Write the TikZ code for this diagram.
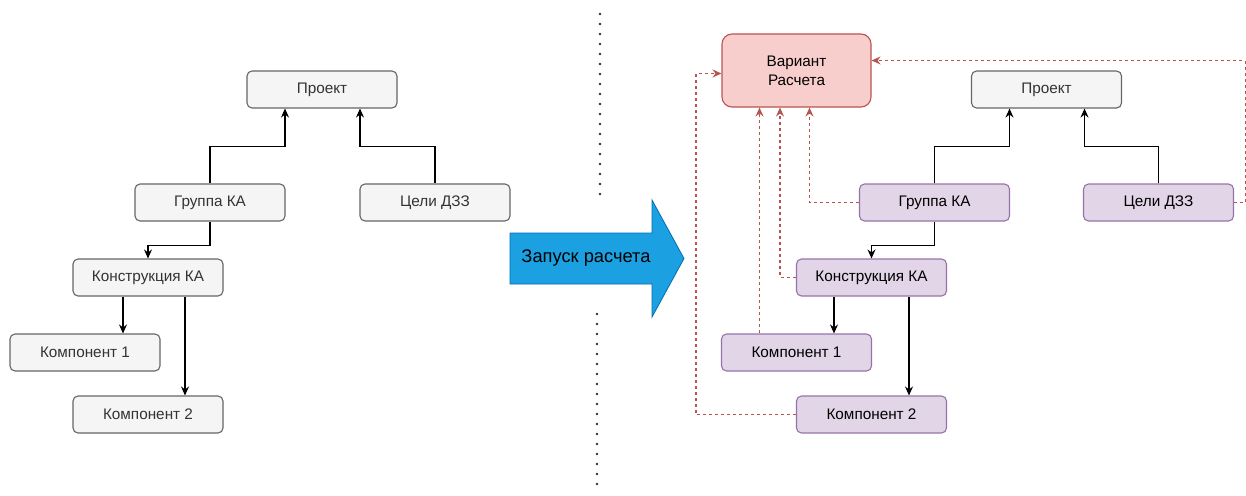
\documentclass[tikz,border=0pt]{standalone}
\usepackage{fontspec}
\setmainfont{Liberation Sans}
\usetikzlibrary{calc,arrows.meta}
\definecolor{gfill}{HTML}{F5F5F5}
\definecolor{gline}{HTML}{666666}
\definecolor{gtext}{HTML}{333333}
\definecolor{pfill}{HTML}{E1D5E7}
\definecolor{pline}{HTML}{9673A6}
\definecolor{rfill}{HTML}{F8CECC}
\definecolor{rline}{HTML}{B85450}
\definecolor{bfill}{HTML}{1BA1E2}
\definecolor{bline}{HTML}{006EAF}
\definecolor{dotc}{HTML}{333333}
\tikzset{
  graybox/.style={draw=gline, fill=gfill, rounded corners=5pt, minimum width=150pt, minimum height=37pt, inner sep=0pt, text=gtext, font=\fontsize{15.3}{17}\selectfont, line width=1.1pt},
  purplebox/.style={draw=pline, fill=pfill, rounded corners=5pt, minimum width=150pt, minimum height=37pt, inner sep=0pt, text=black, font=\fontsize{15.3}{17}\selectfont, line width=1.1pt},
  varbox/.style={draw=rline, fill=rfill, rounded corners=10pt, minimum width=149pt, minimum height=73pt, inner sep=0pt, text=black, align=center, font=\fontsize{15.3}{19}\selectfont, line width=1.1pt},
  arr/.style={draw=black, line width=1.1pt, -{Stealth[length=9pt,width=8pt,inset=3pt]}},
  redarr/.style={draw=rline, line width=1.1pt, dash pattern=on 3pt off 3pt, -{Stealth[length=9pt,width=8pt,inset=3pt]}},
  sep/.style={draw=dotc, line width=2.8pt, line cap=round, dash pattern=on 0pt off 10pt},
}
\begin{document}
\begin{tikzpicture}[x=1pt,y=-1pt]
\useasboundingbox (0,0) rectangle (1246,495);
% left tree
\node[graybox] (P1) at (322,89.5) {Проект};
\node[graybox] (G1) at (210,202.5) {Группа КА};
\node[graybox] (C1) at (435,202.5) {Цели ДЗЗ};
\node[graybox] (K1) at (148,277.5) {Конструкция КА};
\node[graybox] (M1) at (85,352.5) {Компонент 1};
\node[graybox] (N1) at (148,414.5) {Компонент 2};
\draw[arr] (G1.north) |- ($(P1.south)+(-37,38)$) -- ($(P1.south)+(-37,0)$);
\draw[arr] (C1.north) |- ($(P1.south)+(38,38)$) -- ($(P1.south)+(38,0)$);
\draw[arr] (G1.south) |- ($(K1.north)+(0,-13)$) -- (K1.north);
\coordinate (k1a) at ($(K1.south)+(-25,0)$);
\coordinate (k1b) at ($(K1.south)+(37,0)$);
\draw[arr] (k1a) -- (k1a |- M1.north);
\draw[arr] (k1b) -- (k1b |- N1.north);
% separator
\draw[sep] (600,14) -- (600,196);
\draw[sep] (597,314) -- (597,494);
% big arrow
\draw[draw=bline, fill=bfill, line width=0.8pt] (510,233) -- (652,233) -- (652,200) -- (684,258.5) -- (652,317) -- (652,284) -- (510,284) -- cycle;
\node[font=\fontsize{18.3}{20}\selectfont, text=black] (run) at (586,258.5) {Запуск расчета};
% right tree
\node[varbox] (V) at (796.5,70.5) {Вариант\\Расчета};
\node[graybox] (P2) at (1046.5,89.5) {Проект};
\node[purplebox] (G2) at (934.5,202.5) {Группа КА};
\node[purplebox] (C2) at (1158.5,202.5) {Цели ДЗЗ};
\node[purplebox] (K2) at (871.5,277.5) {Конструкция КА};
\node[purplebox] (M2) at (796.5,352.5) {Компонент 1};
\node[purplebox] (N2) at (871.5,414.5) {Компонент 2};
\draw[arr] (G2.north) |- ($(P2.south)+(-37,38)$) -- ($(P2.south)+(-37,0)$);
\draw[arr] (C2.north) |- ($(P2.south)+(38,38)$) -- ($(P2.south)+(38,0)$);
\draw[arr] (G2.south) |- ($(K2.north)+(0,-13)$) -- (K2.north);
\coordinate (k2a) at ($(K2.south)+(-37.5,0)$);
\coordinate (k2b) at ($(K2.south)+(37.5,0)$);
\draw[arr] (k2a) -- (k2a |- M2.north);
\draw[arr] (k2b) -- (k2b |- N2.north);
% red dashed links
\draw[redarr] (G2.west) -| ($(V.south)+(13,0)$);
\draw[redarr] (K2.west) -| ($(V.south)+(-16.5,0)$);
\draw[redarr] ($(M2.north)+(-37,0)$) -- ($(V.south)+(-37,0)$);
\draw[redarr] (N2.west) -- ++(-100,0) |- ($(V.west)+(0,3)$);
\draw[redarr] (C2.east) -- ++(11,0) |- ($(V.east)+(0,-10)$);
\end{tikzpicture}
\end{document}
